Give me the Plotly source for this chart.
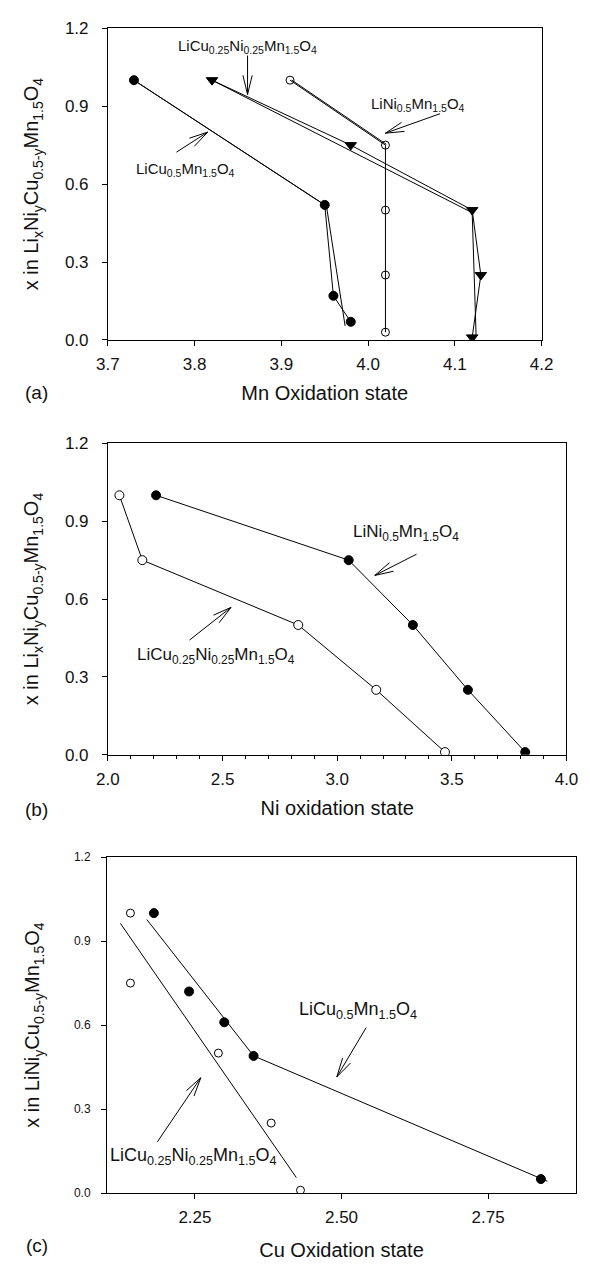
import math
import plotly.graph_objects as go

W, H = 590, 1272
FONT = "Liberation Sans, Arial, Helvetica, sans-serif"
INK = "#111111"

# ---------------- data: panel (a) Mn oxidation state ----------------
a_cu_x = [3.73, 3.95, 3.96, 3.98]
a_cu_y = [1.00, 0.52, 0.17, 0.07]
a_cu_fit_x = [3.73, 3.952, 3.9735]
a_cu_fit_y = [1.00, 0.515, 0.054]

a_cuni_x = [3.82, 3.98, 4.12, 4.13, 4.12]
a_cuni_y = [1.00, 0.75, 0.50, 0.25, 0.01]
a_cuni_fit_x = [3.82, 4.12, 4.1245]
a_cuni_fit_y = [1.00, 0.49, 0.02]

a_ni_x = [3.91, 4.02, 4.02, 4.02, 4.02]
a_ni_y = [1.00, 0.75, 0.50, 0.25, 0.03]
a_ni_fit_x = [3.912, 4.021]
a_ni_fit_y = [1.00, 0.753]

# ---------------- data: panel (b) Ni oxidation state ----------------
b_ni_x = [2.21, 3.05, 3.33, 3.57, 3.82]
b_ni_y = [1.00, 0.75, 0.50, 0.25, 0.01]
b_cuni_x = [2.05, 2.15, 2.83, 3.17, 3.47]
b_cuni_y = [1.00, 0.75, 0.50, 0.25, 0.01]

# ---------------- data: panel (c) Cu oxidation state ----------------
c_cu_x = [2.18, 2.24, 2.30, 2.35, 2.84]
c_cu_y = [1.00, 0.72, 0.61, 0.49, 0.05]
c_cu_fit_x = [2.168, 2.35, 2.851]
c_cu_fit_y = [0.977, 0.49, 0.042]
c_cuni_x = [2.14, 2.14, 2.29, 2.38, 2.43]
c_cuni_y = [1.00, 0.75, 0.50, 0.25, 0.01]
c_cuni_fit_x = [2.123, 2.423]
c_cuni_fit_y = [0.963, 0.055]

# tick labels
a_xticks = [3.7, 3.8, 3.9, 4.0, 4.1, 4.2]
b_xticks = [2.0, 2.5, 3.0, 3.5, 4.0]
c_xticks = [2.25, 2.50, 2.75]
y_ticks = [0.0, 0.3, 0.6, 0.9, 1.2]

# formulas
CU05 = "LiCu<sub>0.5</sub>Mn<sub>1.5</sub>O<sub>4</sub>"
CUNI = "LiCu<sub>0.25</sub>Ni<sub>0.25</sub>Mn<sub>1.5</sub>O<sub>4</sub>"
NI05 = "LiNi<sub>0.5</sub>Mn<sub>1.5</sub>O<sub>4</sub>"
YT_AB = "x in Li<sub>x</sub>Ni<sub>y</sub>Cu<sub>0.5-y</sub>Mn<sub>1.5</sub>O<sub>4</sub>"
YT_C = "x in LiNi<sub>y</sub>Cu<sub>0.5-y</sub>Mn<sub>1.5</sub>O<sub>4</sub>"

# panel geometry (pixels) and ranges
panels = {
    "a": dict(px=(100, 552), py=(19.5, 336), xr=(3.7, 4.2), yr=(0, 1.2), xa="x", ya="y"),
    "b": dict(px=(100, 578), py=(441, 757), xr=(2.0, 4.0), yr=(0, 1.2), xa="x2", ya="y2"),
    "c": dict(px=(99, 588), py=(861, 1202), xr=(2.1, 2.9), yr=(0, 1.2), xa="x3", ya="y3"),
}

fig = go.Figure()


def line(p, xs, ys, width=1.0):
    P = panels[p]
    fig.add_trace(go.Scatter(x=xs, y=ys, mode="lines", xaxis=P["xa"], yaxis=P["ya"],
                             line=dict(color="black", width=width), hoverinfo="skip",
                             showlegend=False))


def pts(p, xs, ys, symbol, fill, size=8, lines=True):
    P = panels[p]
    fig.add_trace(go.Scatter(x=xs, y=ys, mode="lines+markers" if lines else "markers",
                             xaxis=P["xa"], yaxis=P["ya"],
                             line=dict(color="black", width=1),
                             marker=dict(symbol=symbol, size=size, color=fill,
                                         line=dict(color="black", width=1)),
                             showlegend=False))


# panel a
line("a", a_cu_fit_x, a_cu_fit_y)
line("a", a_cuni_fit_x, a_cuni_fit_y)
line("a", a_ni_fit_x, a_ni_fit_y)
pts("a", a_cu_x, a_cu_y, "circle", "black", 9)
pts("a", a_cuni_x, a_cuni_y, "triangle-down", "black", 10)
pts("a", a_ni_x, a_ni_y, "circle-open", "black", 8)
# panel b
pts("b", b_ni_x, b_ni_y, "circle", "black", 9)
pts("b", b_cuni_x, b_cuni_y, "circle", "white", 9)
# panel c
line("c", c_cu_fit_x, c_cu_fit_y)
line("c", c_cuni_fit_x, c_cuni_fit_y)
pts("c", c_cu_x, c_cu_y, "circle", "black", 9, lines=False)
pts("c", c_cuni_x, c_cuni_y, "circle", "white", 8, lines=False)

shapes = []
annotations = []


def to_px(p, x, y):
    P = panels[p]
    sx = (P["px"][1] - P["px"][0]) / (P["xr"][1] - P["xr"][0])
    sy = (P["py"][1] - P["py"][0]) / (P["yr"][1] - P["yr"][0])
    return P["px"][0] + (x - P["xr"][0]) * sx, P["py"][1] - (y - P["yr"][0]) * sy, sx, sy


def arrow(p, tail, tip, wing=20, ang=14):
    P = panels[p]
    ref = dict(xref=P["xa"], yref=P["ya"], line=dict(color="black", width=1))
    shapes.append(dict(type="line", x0=tail[0], y0=tail[1], x1=tip[0], y1=tip[1], **ref))
    tx, ty, sx, sy = to_px(p, *tip)
    bx, by, _, _ = to_px(p, *tail)
    d = math.hypot(bx - tx, by - ty)
    ux, uy = (bx - tx) / d, (by - ty) / d
    for s in (-1, 1):
        t = math.radians(ang * s)
        wx = ux * math.cos(t) - uy * math.sin(t)
        wy = ux * math.sin(t) + uy * math.cos(t)
        ex, ey = tx + wx * wing, ty + wy * wing
        shapes.append(dict(type="line", x0=tip[0], y0=tip[1],
                           x1=P["xr"][0] + (ex - P["px"][0]) / sx,
                           y1=P["yr"][0] + (P["py"][1] - ey) / sy, **ref))


def label(p, text, x, y, size):
    P = panels[p]
    annotations.append(dict(text=text, x=x, y=y, xref=P["xa"], yref=P["ya"], showarrow=False,
                            font=dict(family=FONT, size=size, color=INK),
                            xanchor="center", yanchor="middle"))


label("a", CUNI, 3.861, 1.13, 15)
arrow("a", (3.861, 1.095), (3.861, 0.945))
label("a", NI05, 4.058, 0.906, 15)
arrow("a", (4.083, 0.871), (4.020, 0.796))
label("a", CU05, 3.790, 0.655, 15)
arrow("a", (3.779, 0.723), (3.815, 0.800))

label("b", NI05, 3.300, 0.853, 17)
arrow("b", (3.346, 0.773), (3.164, 0.691))
label("b", CUNI, 2.470, 0.381, 17)
arrow("b", (2.356, 0.442), (2.537, 0.568))

label("c", CU05, 2.528, 0.652, 18)
arrow("c", (2.542, 0.591), (2.492, 0.415))
label("c", CUNI, 2.248, 0.130, 18)
arrow("c", (2.186, 0.183), (2.260, 0.412))

# panel letters
for txt, ypx in (("(a)", 389), ("(b)", 813), ("(c)", 1255)):
    annotations.append(dict(text=txt, x=26 / W, y=1 - ypx / H, xref="paper", yref="paper",
                            showarrow=False, font=dict(family=FONT, size=19, color=INK),
                            xanchor="center", yanchor="middle"))


def xaxis(p, ticks, fmt, title, tsize=17, minor=None, tstand=12):
    P = panels[p]
    d = dict(domain=[P["px"][0] / W, P["px"][1] / W], range=list(P["xr"]), anchor=P["ya"],
             tickvals=ticks, tickformat=fmt, ticks="outside", ticklen=5, tickwidth=1,
             tickcolor="black", showline=True, linecolor="black", linewidth=1, mirror=True,
             showgrid=False, zeroline=False, ticklabelstandoff=4,
             tickfont=dict(family=FONT, size=tsize, color=INK),
             title=dict(text=title, font=dict(family=FONT, size=20, color=INK), standoff=tstand))
    if minor:
        d["minor"] = dict(dtick=minor, ticks="outside", ticklen=3, tickcolor="black", showgrid=False)
    return d


def yaxis(p, title, tsize=17, tstand=20, lstand=10):
    P = panels[p]
    return dict(domain=[1 - P["py"][1] / H, 1 - P["py"][0] / H], range=list(P["yr"]),
                anchor=P["xa"], tickvals=y_ticks, tickformat=".1f", ticks="outside",
                ticklen=5, tickwidth=1, tickcolor="black", showline=True, linecolor="black",
                linewidth=1, mirror=True, showgrid=False, zeroline=False,
                ticklabelstandoff=lstand,
                tickfont=dict(family=FONT, size=tsize, color=INK),
                title=dict(text=title, font=dict(family=FONT, size=20, color=INK), standoff=tstand))


fig.update_layout(
    width=W, height=H, margin=dict(l=0, r=0, t=0, b=0),
    paper_bgcolor="white", plot_bgcolor="white", showlegend=False,
    xaxis=xaxis("a", a_xticks, ".1f", "Mn Oxidation state"),
    yaxis=yaxis("a", YT_AB),
    xaxis2=xaxis("b", b_xticks, ".1f", "Ni oxidation state", minor=0.1),
    yaxis2=yaxis("b", YT_AB),
    xaxis3=xaxis("c", c_xticks, ".2f", "Cu Oxidation state", tstand=16),
    yaxis3=yaxis("c", YT_C, tsize=12, tstand=28, lstand=8),
    shapes=shapes, annotations=annotations,
)

fig.write_html("out.html")
